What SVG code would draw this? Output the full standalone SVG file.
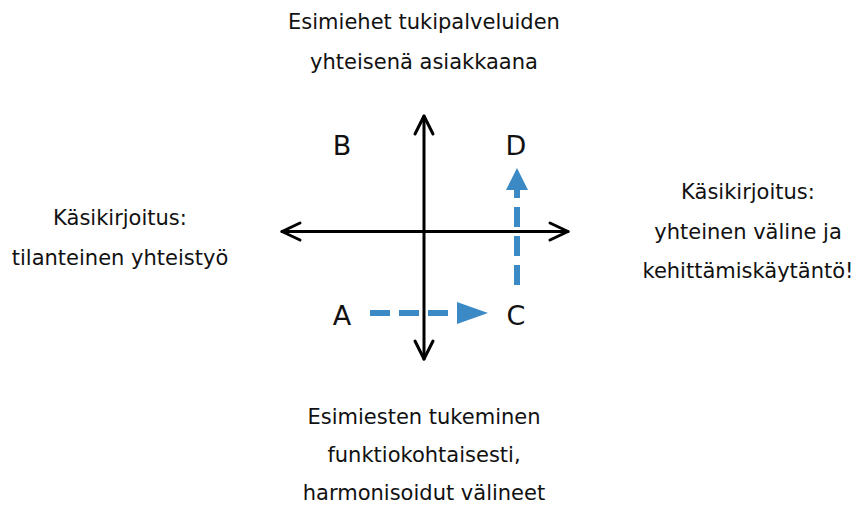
<svg xmlns="http://www.w3.org/2000/svg" width="860" height="506" viewBox="0 0 860 506">
  <style>
    .lbl { font-family: "DejaVu Sans", Verdana, sans-serif; font-size: 21px; fill: #111; text-anchor: middle; }
    .pt { font-family: "DejaVu Sans", Verdana, sans-serif; font-size: 27px; fill: #111; text-anchor: middle; }
    .axis { stroke: #000; stroke-width: 3; fill: none; stroke-linecap: round; stroke-linejoin: round; }
    .flow { stroke: #3b8ac6; stroke-width: 6; fill: none; stroke-dasharray: 20 9; }
    .head { fill: #3b8ac6; }
  </style>
  <rect width="860" height="506" fill="#fff"/>

  <g id="axes">
    <path class="axis" d="M424 116 V359 M282 231.5 H568"/>
    <path class="axis" d="M415 134 L424 116 L433 134"/>
    <path class="axis" d="M415 341 L424 359 L433 341"/>
    <path class="axis" d="M300 223 L282 231.5 L300 240"/>
    <path class="axis" d="M550 223 L568 231.5 L550 240"/>
  </g>

  <g id="connectors">
    <path class="flow" d="M370 313 H459"/>
    <polygon class="head" points="457,302 488,313 457,324"/>
    <path class="flow" d="M517 285 V190"/>
    <polygon class="head" points="506,190 517,168 528,190"/>
  </g>

  <g id="point-a"><text class="pt" x="342" y="325">A</text></g>
  <g id="point-b"><text class="pt" x="342" y="155">B</text></g>
  <g id="point-c"><text class="pt" x="516" y="325">C</text></g>
  <g id="point-d"><text class="pt" x="516" y="155">D</text></g>

  <g id="label-top">
    <text class="lbl" x="424" y="29">Esimiehet tukipalveluiden</text>
    <text class="lbl" x="424" y="68.5">yhteisenä asiakkaana</text>
  </g>
  <g id="label-left">
    <text class="lbl" x="120" y="225">Käsikirjoitus:</text>
    <text class="lbl" x="120" y="264.5">tilanteinen yhteistyö</text>
  </g>
  <g id="label-right">
    <text class="lbl" x="748" y="199">Käsikirjoitus:</text>
    <text class="lbl" x="748" y="238.5">yhteinen väline ja</text>
    <text class="lbl" x="748" y="278">kehittämiskäytäntö!</text>
  </g>
  <g id="label-bottom">
    <text class="lbl" x="424" y="424">Esimiesten tukeminen</text>
    <text class="lbl" x="424" y="462">funktiokohtaisesti,</text>
    <text class="lbl" x="424" y="500">harmonisoidut välineet</text>
  </g>
</svg>
